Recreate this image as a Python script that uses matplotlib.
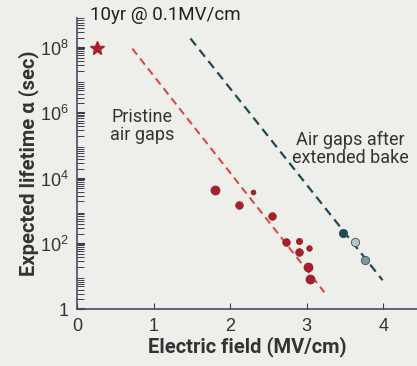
import numpy as np
import matplotlib
matplotlib.use("Agg")
import matplotlib.pyplot as plt
from matplotlib.ticker import FixedLocator, FixedFormatter, LogLocator, NullFormatter

# pristine air gaps (field in MV/cm, lifetime in s)
pristine_field = [1.80, 2.30, 2.12, 2.55, 2.73, 2.90, 2.90, 3.03, 3.02, 3.04]
pristine_life = [10**3.64, 10**3.58, 10**3.18, 10**2.87, 10**2.05,
                 10**2.08, 10**1.74, 10**1.87, 10**1.28, 10**0.92]
pristine_size = [6.5, 3.5, 5.5, 5.5, 5.5, 4.5, 5.5, 4, 6.5, 6.5]

# baked air gaps
baked_field = [3.47, 3.63, 3.76]
baked_life = [10**2.32, 10**2.05, 10**1.50]
baked_color = ['#1f4a55', '#b9c4c6', '#7f9a98']

# fit lines
pristine_fit_x = [0.72, 3.23]
pristine_fit_y = [10**7.98, 10**0.52]
baked_fit_x = [1.48, 3.99]
baked_fit_y = [10**8.29, 10**0.89]

# target
star_x, star_y = 0.26, 10**8.0

ytick_vals = [1, 1e2, 1e4, 1e6, 1e8]
ytick_labels = ['1', '$10^2$', '$10^4$', '$10^6$', '$10^8$']
xtick_vals = [0, 1, 2, 3, 4]

narrow = ['Roboto', 'DejaVu Sans']
plt.rcParams['mathtext.fontset'] = 'custom'
plt.rcParams['mathtext.rm'] = 'Liberation Sans'
plt.rcParams['mathtext.default'] = 'rm'
plt.rcParams['font.family'] = ['Liberation Sans', 'DejaVu Sans']

bg = '#eeeeeb'
fig = plt.figure(figsize=(4.17, 3.66), dpi=100, facecolor=bg)
ax = fig.add_axes([0.185, 0.155, 0.815, 0.797])
ax.set_facecolor(bg)

ax.plot(pristine_fit_x, pristine_fit_y, ls=(0, (4, 2.5)), color='#d8433e', lw=1.4)
ax.plot(baked_fit_x, baked_fit_y, ls=(0, (4, 2.5)), color='#1f4a55', lw=1.6)

for x, y, s in zip(pristine_field, pristine_life, pristine_size):
    ax.plot(x, y, 'o', ms=s, color='#a8202a', mec='#8a1a22', mew=0.5)
for x, y, c in zip(baked_field, baked_life, baked_color):
    ax.plot(x, y, 'o', ms=6, color=c, mec='#33555a', mew=0.6)

ax.plot(star_x, star_y, '*', ms=10, color='#a8202a')

ax.set_yscale('log')
ax.set_xlim(0, 4.44)
ax.set_ylim(1, 10**8.93)

ax.yaxis.set_major_locator(FixedLocator(ytick_vals))
ax.yaxis.set_major_formatter(FixedFormatter(ytick_labels))
ax.yaxis.set_minor_locator(LogLocator(base=10, subs=np.arange(2, 10), numticks=20))
ax.yaxis.set_minor_formatter(NullFormatter())
ax.set_xticks(xtick_vals)

ax.tick_params(axis='both', which='major', direction='in', labelsize=13,
               colors='#3c3c50', labelcolor='#333333', pad=6)
ax.tick_params(axis='y', which='major', length=6, width=1.5)
ax.tick_params(axis='y', which='minor', direction='in', length=5, width=0.7, colors='#3c3c50')
ax.tick_params(axis='x', which='major', length=4, width=0.8)

for side in ['top', 'right']:
    ax.spines[side].set_visible(False)
for side in ['left', 'bottom']:
    ax.spines[side].set_color('#4a4a66')
    ax.spines[side].set_linewidth(1.2)

ax.set_xlabel('Electric field (MV/cm)', family=narrow, fontweight='bold',
              fontsize=14.5, color='#333333', labelpad=1)
ax.set_ylabel('Expected lifetime α (sec)', family=narrow, fontweight='bold',
              fontsize=14.5, color='#333333', labelpad=1)

ax.text(0.17, 10**9.0, '10yr @ 0.1MV/cm', family=narrow, fontsize=13.5,
        color='#222222', va='center', ha='left')
ax.text(0.85, 10**5.6, 'Pristine\nair gaps', family=narrow, fontsize=13,
        color='#333333', ha='center', va='center', linespacing=1.0)
ax.text(3.57, 10**4.9, 'Air gaps after\nextended bake', family=narrow, fontsize=13,
        color='#333333', ha='center', va='center', linespacing=1.0)

fig.savefig('out.png', dpi=100, facecolor=bg)
